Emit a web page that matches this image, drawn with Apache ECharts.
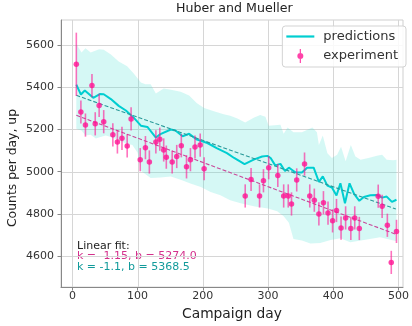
<!DOCTYPE html>
<html><head><meta charset="utf-8">
<script src="https://cdn.jsdelivr.net/npm/echarts@6/dist/echarts.min.js"></script>
<style>html,body{margin:0;padding:0;background:#fff}#c{width:412px;height:326px}</style>
</head><body><div id="c"></div>
<script>
// ---- data ----
const xTicks = [0, 100, 200, 300, 400, 500];
const yTicks = [4600, 4800, 5000, 5200, 5400, 5600];

const expDays = [6, 13, 20, 30, 35, 41, 48, 62, 69, 76, 84, 90, 104, 112, 118, 128, 134, 140, 144, 153, 160, 167, 175, 181, 188, 196, 202,
  265, 274, 287, 293, 301, 315, 324, 331, 336, 344, 356, 364, 371, 378, 385, 392, 399, 405, 412, 419, 427, 433, 440, 469, 475, 483, 489, 497];
const expCounts = [5509, 5283, 5221, 5408, 5227, 5314, 5237, 5175, 5141, 5158, 5122, 5250, 5057, 5114, 5046, 5141, 5154, 5103, 5069, 5046, 5072, 5123, 5023, 5057, 5117, 5126, 5014,
  4885, 4963, 4885, 4957, 5019, 4982, 4885, 4885, 4847, 4961, 5036, 4885, 4865, 4800, 4853, 4804, 4767, 4816, 4733, 4781, 4731, 4781, 4731, 4884, 4836, 4746, 4570, 4717];
const expErr = [150, 55, 55, 55, 55, 55, 55, 55, 55, 55, 55, 55, 55, 55, 55, 55, 55, 55, 55, 55, 55, 55, 55, 55, 55, 55, 55,
  55, 55, 55, 55, 55, 55, 55, 55, 55, 55, 55, 55, 55, 55, 55, 55, 55, 55, 55, 55, 55, 55, 55, 55, 55, 55, 55, 55];

const predDays = [6, 13, 19, 32, 42, 48, 59, 71, 82, 94, 105, 115, 128, 135, 151, 158, 169, 179, 191, 207, 222, 237, 248, 264, 278, 291, 299, 304, 311, 319, 326, 332, 337, 342, 352, 360, 370, 378, 384, 391, 398, 405, 411, 418, 425, 432, 440, 447, 457, 467, 475, 482, 490, 497];
const predCounts = [5413, 5366, 5385, 5350, 5368, 5367, 5344, 5312, 5290, 5256, 5218, 5212, 5162, 5178, 5200, 5195, 5168, 5180, 5152, 5136, 5111, 5088, 5065, 5036, 5057, 5072, 5075, 5065, 5030, 5037, 5003, 5019, 5008, 4997, 4996, 5019, 5019, 4952, 4978, 4934, 4925, 4887, 4945, 4850, 4945, 4895, 4862, 4880, 4888, 4890, 4877, 4882, 4857, 4867];

const bandUpDays = [6, 14, 20, 28, 41, 48, 59, 71, 84, 94, 105, 112, 120, 128, 140, 153, 166, 179, 191, 202, 217, 232, 242, 253, 265, 278, 288, 296, 301, 319, 324, 330, 339, 352, 368, 375, 378, 384, 391, 398, 406, 412, 419, 427, 434, 442, 454, 467, 475, 482, 492, 497];
const bandUp = [5605, 5565, 5585, 5565, 5580, 5578, 5555, 5522, 5500, 5465, 5423, 5415, 5415, 5371, 5394, 5387, 5379, 5361, 5325, 5302, 5287, 5272, 5265, 5252, 5233, 5256, 5269, 5260, 5218, 5223, 5180, 5210, 5187, 5187, 5210, 5187, 5126, 5172, 5088, 5065, 5080, 5118, 5049, 5126, 5072, 5057, 5065, 5076, 5080, 5057, 5054, 5057];
const bandLoDays = [6, 14, 20, 28, 36, 43, 51, 59, 71, 82, 92, 100, 105, 120, 135, 151, 166, 181, 197, 212, 227, 242, 258, 280, 300, 314, 324, 332, 339, 352, 365, 380, 396, 411, 426, 447, 472, 497];
const bandLo = [5203, 5195, 5172, 5175, 5157, 5164, 5172, 5164, 5149, 5134, 5126, 5090, 5005, 4970, 4973, 4977, 4962, 4944, 4927, 4904, 4888, 4865, 4850, 4835, 4825, 4812, 4789, 4758, 4681, 4674, 4660, 4662, 4676, 4684, 4665, 4676, 4689, 4670];

const fitExp = { k: -1.15, b: 5274.0 };
const fitPred = { k: -1.1, b: 5368.5 };
const fitRange = [6, 496];

// ---- chart ----
const FONT = 'DejaVu Sans';
const chart = echarts.init(document.getElementById('c'), null, { renderer: 'canvas' });
const xy = (xs, ys) => xs.map((x, i) => [x, ys[i]]);
const fitLine = f => fitRange.map(x => [x, f.b + f.k * x]);
const GRIDC = '#d6d6d6';

const option = {
  animation: false,
  backgroundColor: '#fff',
  title: {
    text: 'Huber and Mueller', left: 176, top: 2, padding: 0,
    textStyle: { fontFamily: FONT, fontSize: 12.6, fontWeight: 'normal', color: '#222' }
  },
  grid: { left: 61, right: 9, top: 20, bottom: 32, show: true, borderColor: '#cfcfcf', borderWidth: 1, backgroundColor: 'transparent' },
  legend: {
    orient: 'vertical', right: 6, top: 26, itemWidth: 28, itemHeight: 14, itemGap: 6,
    padding: [4, 8, 4, 4], borderColor: '#d3d3d3', borderWidth: 1, borderRadius: 3,
    backgroundColor: 'rgba(255,255,255,0.85)',
    textStyle: { fontFamily: FONT, fontSize: 13, color: '#333', padding: [0, 0, 0, 4] },
    data: [
      { name: 'predictions', icon: 'path://M0,0 L28,0 L28,2.2 L0,2.2 Z' },
      { name: 'experiment', icon: 'path://M2.4,0 L3.6,0 L3.6,14 L2.4,14 Z M6,7 A3,3 0 1,1 0,7 A3,3 0 1,1 6,7 Z' }
    ]
  },
  xAxis: {
    type: 'value', min: -17.5, max: 507,
    name: 'Campaign day', nameLocation: 'middle', nameGap: 17,
    nameTextStyle: { fontFamily: FONT, fontSize: 13.8, color: '#222' },
    axisLine: { show: true, onZero: false, lineStyle: { color: '#888', width: 1 } },
    axisTick: { show: true, length: 3.5, customValues: xTicks, lineStyle: { color: '#888' } },
    axisLabel: { customValues: xTicks, margin: 4, fontFamily: FONT, fontSize: 11, color: '#333', formatter: v => String(v) },
    splitLine: { show: false }
  },
  yAxis: {
    type: 'value', min: 4453, max: 5719,
    axisLine: { show: true, onZero: false, lineStyle: { color: '#888', width: 1 } },
    axisTick: { show: true, length: 3.5, customValues: yTicks, lineStyle: { color: '#888' } },
    axisLabel: { customValues: yTicks, margin: 7, fontFamily: FONT, fontSize: 11, color: '#333', formatter: v => String(v) },
    splitLine: { show: false }
  },
  graphic: [
    { type: 'text', x: 13, y: 168, rotation: Math.PI / 2,
      style: { text: 'Counts per day, up', font: '12.4px "DejaVu Sans"', fill: '#222', align: 'center', verticalAlign: 'middle' } },
    { type: 'text', left: 77, top: 241, style: { text: 'Linear fit:', font: '11px "DejaVu Sans"', fill: '#222' } },
    { type: 'text', left: 77, top: 251, style: { text: 'k = ' + fitExp.k.toFixed(2) + ', b = ' + fitExp.b.toFixed(1), font: '11px "DejaVu Sans"', fill: '#d4308c' } },
    { type: 'text', left: 77, top: 261.5, style: { text: 'k = ' + fitPred.k.toFixed(1) + ', b = ' + fitPred.b.toFixed(1), font: '11px "DejaVu Sans"', fill: '#129b9b' } }
  ],
  series: [
    {
      name: 'vgrid', type: 'custom', z: 0, silent: true, clip: false,
      data: xTicks.map(v => [v, yTicks[0]]),
      renderItem: (params, api) => {
        const cs = params.coordSys;
        const p = api.coord([api.value(0), api.value(1)]);
        const x = Math.round(p[0]) + 0.5;
        return { type: 'line', shape: { x1: x, y1: cs.y, x2: x, y2: cs.y + cs.height }, style: { stroke: GRIDC, lineWidth: 1 } };
      }
    },
    {
      name: 'hgrid', type: 'custom', z: 0, silent: true, clip: false,
      data: yTicks.map(v => [xTicks[0], v]),
      renderItem: (params, api) => {
        const cs = params.coordSys;
        const p = api.coord([api.value(0), api.value(1)]);
        const y = Math.round(p[1]) + 0.5;
        return { type: 'line', shape: { x1: cs.x, y1: y, x2: cs.x + cs.width, y2: y }, style: { stroke: GRIDC, lineWidth: 1 } };
      }
    },
    {
      name: 'band', type: 'custom', z: 1, silent: true, clip: true, data: [0],
      renderItem: (params, api) => {
        const up = bandUpDays.map((d, i) => api.coord([d, bandUp[i]]));
        const lo = bandLoDays.map((d, i) => api.coord([d, bandLo[i]])).reverse();
        return { type: 'polygon', shape: { points: up.concat(lo) }, style: { fill: 'rgba(64,224,208,0.22)' } };
      }
    },
    {
      name: 'predictions', type: 'line', z: 3, data: xy(predDays, predCounts), showSymbol: false, symbol: 'none',
      color: '#00CED1', lineStyle: { color: '#00CED1', width: 2 }
    },
    {
      name: 'fitPred', type: 'line', z: 3, data: fitLine(fitPred), showSymbol: false, symbol: 'none',
      lineStyle: { color: '#2a9a9a', width: 1.1, type: [4, 2] }
    },
    {
      name: 'fitExp', type: 'line', z: 3, data: fitLine(fitExp), showSymbol: false, symbol: 'none',
      lineStyle: { color: '#c8489a', width: 1.1, type: [4, 2] }
    },
    {
      name: 'errbars', type: 'custom', z: 4, silent: true,
      data: expDays.map((d, i) => [d, expCounts[i] - expErr[i], expCounts[i] + expErr[i]]),
      renderItem: (params, api) => {
        const x = api.value(0);
        const p1 = api.coord([x, api.value(1)]);
        const p2 = api.coord([x, api.value(2)]);
        return { type: 'line', shape: { x1: p1[0], y1: p1[1], x2: p2[0], y2: p2[1] }, style: { stroke: 'rgba(255,20,147,0.6)', lineWidth: 1.6 } };
      }
    },
    {
      name: 'experiment', type: 'scatter', z: 5, data: xy(expDays, expCounts), symbolSize: 5.5,
      color: '#FF1493', itemStyle: { color: '#FF1493' }
    }
  ]
};
chart.setOption(option);
</script>
</body></html>
